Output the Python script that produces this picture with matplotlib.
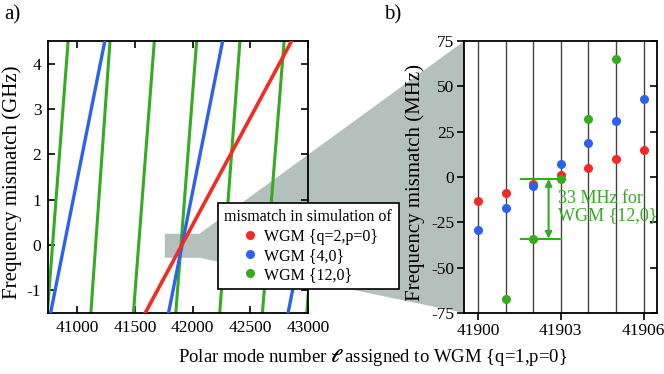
import matplotlib
matplotlib.use('Agg')
from matplotlib import pyplot as plt
from matplotlib.patches import Polygon
from matplotlib.lines import Line2D

plt.rcParams['font.family'] = ['Liberation Serif', 'DejaVu Serif']
plt.rcParams['mathtext.fontset'] = 'stix'
plt.rcParams['axes.unicode_minus'] = False

# panel a: polar mode number where each line leaves the bottom (-1.5 GHz) and top (4.5 GHz)
f_bot, f_top = -1.5, 4.5
red_bot = [41590]
red_top = [42858]
blue_bot = [40770, 41792, 42828]
blue_top = [41240, 42261, 43297]
green_bot = [40742, 41119, 41488, 41855, 42236, 42606, 42990]
green_top = [40922, 41285, 41669, 42036, 42411, 42794, 43170]

# panel b: mismatch in MHz
ell_b = [41900, 41901, 41902, 41903, 41904, 41905, 41906]
red_b = [-13, -9, -4, 1, 5, 10, 15]
blue_b = [-29, -17, -5, 7, 19, 31, 43]
ell_green = [41901, 41902, 41903, 41904, 41905]
green_b = [-67, -34, -1, 32, 65]
xt_b = [41900, 41903, 41906]

RED = '#f42a23'
BLUE = '#2b62f2'
GREEN = '#33ac1e'
CONE = '#b4c0bc'

fig = plt.figure(figsize=(6.64, 3.74), dpi=100)
ax1 = fig.add_axes([0.0727, 0.163, 0.391, 0.727])
ax2 = fig.add_axes([0.699, 0.163, 0.291, 0.727])
ax1.patch.set_alpha(0)

for b, t in zip(green_bot, green_top):
    ax1.plot([b, t], [f_bot, f_top], color=GREEN, lw=2.2, zorder=2)
for b, t in zip(blue_bot, blue_top):
    ax1.plot([b, t], [f_bot, f_top], color=BLUE, lw=2.4, zorder=3)
for b, t in zip(red_bot, red_top):
    ax1.plot([b, t], [f_bot, f_top], color=RED, lw=2.6, zorder=4)

ax1.set_xlim(40750, 43000)
ax1.set_ylim(-1.5, 4.5)
ax1.set_xticks([41000, 41500, 42000, 42500, 43000])
ax1.set_yticks([-1, 0, 1, 2, 3, 4])
ax1.tick_params(direction='in', top=True, right=True, labelsize=12.5, length=5, width=1.2, pad=5)
ax1.set_ylabel('Frequency mismatch (GHz)', fontsize=15)
ax1.yaxis.set_label_coords(-0.10, 0.48)
for s in ax1.spines.values():
    s.set_linewidth(1.3)

# panel b
for x in ell_b:
    ax2.axvline(x, color='#444444', lw=1.0, zorder=1)
ax2.plot(ell_b, red_b, 'o', color=RED, ms=5.5, zorder=3)
ax2.plot(ell_b, blue_b, 'o', color=BLUE, ms=5.5, zorder=3)
ax2.plot(ell_green, green_b, 'o', color=GREEN, ms=5.5, zorder=3)

# 33 MHz spacing marker
ax2.plot([41901.55, 41903], [-1, -1], color=GREEN, lw=1.5, zorder=2)
ax2.plot([41901.55, 41903], [-34, -34], color=GREEN, lw=1.5, zorder=2)
ax2.annotate('', xy=(41902.56, -34), xytext=(41902.56, -1),
             arrowprops=dict(arrowstyle='<|-|>', color=GREEN, lw=1.5, mutation_scale=10,
                             shrinkA=0, shrinkB=0))
ax2.text(41902.9, -16.5, '33 MHz for\nWGM {12,0}', color=GREEN, fontsize=13,
         va='center', ha='left', linespacing=0.95)

ax2.set_xlim(41899.5, 41906.5)
ax2.set_ylim(-75, 75)
ax2.set_xticks(xt_b)
ax2.set_xticklabels([str(v) for v in xt_b])
ax2.set_yticks([-75, -50, -25, 0, 25, 50, 75])
ax2.tick_params(axis='both', direction='out', labelsize=12.5, length=5, width=1.2, pad=2)
ax2.tick_params(axis='y', right=True)
for s in ax2.spines.values():
    s.set_linewidth(1.3)
ax2.set_ylabel('Frequency mismatch (MHz)', fontsize=15)
ax2.yaxis.set_label_coords(-0.20, 0.48)
# inward ticks on the right side only
for t in ax2.yaxis.get_major_ticks():
    t.tick2line.set_marker(matplotlib.lines.TICKLEFT)

# zoom cone from panel a to panel b
fig.canvas.draw()
to_fig = fig.transFigure.inverted()
r0 = to_fig.transform(ax1.transData.transform((41760, 0.25)))
r1 = to_fig.transform(ax1.transData.transform((42060, 0.25)))
r2 = to_fig.transform(ax1.transData.transform((42060, -0.28)))
r3 = to_fig.transform(ax1.transData.transform((41760, -0.28)))
b0 = to_fig.transform(ax2.transAxes.transform((0, 1)))
b1 = to_fig.transform(ax2.transAxes.transform((0, 0)))
cone = Polygon([r0, r1, b0, b1, r2, r3], closed=True, facecolor=CONE, edgecolor='none',
               transform=fig.transFigure, clip_on=False, zorder=0.5)
ax1.add_patch(cone)

handles = [Line2D([], [], ls='none', marker='o', ms=5.5, color=c) for c in (RED, BLUE, GREEN)]
leg = ax1.legend(handles, ['WGM {q=2,p=0}', 'WGM {4,0}', 'WGM {12,0}'],
                 title='mismatch in simulation of', fontsize=11.5, title_fontsize=11.5,
                 loc='upper left', bbox_to_anchor=(218 / 664, 1 - 203 / 374),
                 bbox_transform=fig.transFigure, frameon=True, fancybox=False,
                 edgecolor='black', framealpha=1, borderpad=0.4, handletextpad=0.15,
                 labelspacing=0.2, handlelength=1.5, borderaxespad=0)
leg.get_frame().set_linewidth(1.2)
leg.set_zorder(10)

fig.text(4 / 664, 0.96, 'a)', fontsize=15, va='center', ha='left')
fig.text(384 / 664, 0.96, 'b)', fontsize=15, va='center', ha='left')
fig.text(373 / 664, 1 - 357 / 374, r'Polar mode number $\boldsymbol{\ell}$ assigned to WGM {q=1,p=0}',
         fontsize=13.5, ha='center', va='center')

fig.savefig('out.png', dpi=100)
